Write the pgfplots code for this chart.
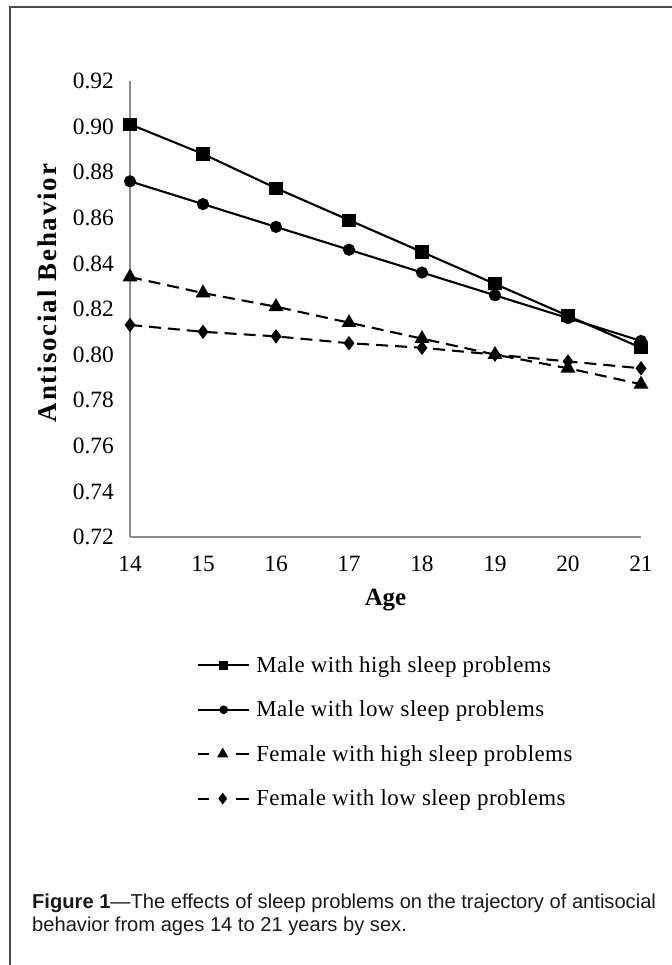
\documentclass[border=0pt]{standalone}
\usepackage{fontspec}
\setmainfont{Liberation Serif}
\newfontfamily\capfont{Liberation Sans}
\newfontfamily\ylabfont{Liberation Serif}[LetterSpace=7]
\newfontfamily\legfont{Liberation Serif}[LetterSpace=2]
\usepackage{pgfplots}
\pgfplotsset{compat=1.18}
\definecolor{axgray}{HTML}{8C8C8C}
\definecolor{framegray}{HTML}{4A4A4A}
\pgfplotsset{
  solidleg/.style={legend image code/.code={%
    \draw[##1,mark=none] (0bp,0bp)--(51bp,0bp);
    \draw[##1,mark size=#1] plot coordinates {(25.5bp,0bp)};}},
  dashleg/.style={legend image code/.code={%
    \draw[##1,mark=none,solid] (0bp,0bp)--(11bp,0bp) (38bp,0bp)--(51bp,0bp);
    \draw[##1,mark size=#1] plot coordinates {(24.5bp,0bp)};}},
}
\begin{document}
\begin{tikzpicture}
\useasboundingbox (0,0) rectangle (672bp,965bp);
\draw[framegray, line width=2bp] (10bp,0bp) -- (10bp,958bp) -- (672bp,958bp);
\begin{axis}[
  at={(130bp,428bp)}, anchor=south west,
  scale only axis, width=511bp, height=456bp,
  xmin=14, xmax=21, ymin=0.72, ymax=0.92,
  axis lines*=left,
  axis line style={axgray, line width=1.3bp},
  xtick={14,15,16,17,18,19,20,21},
  ytick={0.72,0.74,0.76,0.78,0.80,0.82,0.84,0.86,0.88,0.90,0.92},
  major tick length=0pt,
  /pgf/number format/assume math mode=true,
  tick label style={font=\fontsize{23.5}{27}\selectfont},
  yticklabel style={/pgf/number format/.cd, fixed, fixed zerofill, precision=2, /tikz/.cd, inner sep=0pt, xshift=-16bp},
  xticklabel style={inner sep=0pt, yshift=-19bp},
  xlabel={Age},
  xlabel style={at={(axis description cs:0.5,0)}, anchor=center, yshift=-63bp, font=\bfseries\fontsize{25}{29}\selectfont},
  ylabel={Antisocial Behavior},
  ylabel style={at={(axis description cs:-0.161,0.535)}, anchor=center, font=\ylabfont\bfseries\fontsize{27}{31}\selectfont},
  clip=false,
  legend style={at={(axis description cs:0.1311,-0.4276)}, anchor=west, draw=none, fill=none,
    inner sep=0pt, row sep=27bp, /tikz/column sep=6bp,
    font=\legfont\fontsize{23}{27}\selectfont, nodes={inner sep=0pt}},
  legend cell align=left,
]
\addplot[black, line width=2.1bp, mark=square*, mark size=5.5bp, mark options={solid}, solidleg=3.6bp]
  coordinates {(14,0.901)(15,0.888)(16,0.873)(17,0.859)(18,0.845)(19,0.831)(20,0.817)(21,0.803)};
\addlegendentry{Male with high sleep problems}
\addplot[black, line width=2.1bp, mark=*, mark size=5bp, mark options={solid}, solidleg=3.2bp]
  coordinates {(14,0.876)(15,0.866)(16,0.856)(17,0.846)(18,0.836)(19,0.826)(20,0.816)(21,0.806)};
\addlegendentry{Male with low sleep problems}
\addplot[black, line width=2.1bp, dash pattern=on 12bp off 7bp, mark=triangle*, mark size=6.5bp, mark options={solid}, dashleg=4.5bp]
  coordinates {(14,0.834)(15,0.827)(16,0.821)(17,0.814)(18,0.807)(19,0.800)(20,0.794)(21,0.787)};
\addlegendentry{Female with high sleep problems}
\addplot[black, line width=2.1bp, dash pattern=on 12bp off 7bp, mark=diamond*, mark size=5.5bp, mark options={solid}, dashleg=4.2bp]
  coordinates {(14,0.813)(15,0.810)(16,0.808)(17,0.805)(18,0.803)(19,0.800)(20,0.797)(21,0.794)};
\addlegendentry{Female with low sleep problems}
\end{axis}
\node[anchor=base west, inner sep=0pt, text=black!90] at (32bp,56bp) {\capfont\fontsize{20.2}{24}\selectfont\textbf{Figure 1}—The effects of sleep problems on the trajectory of antisocial};
\node[anchor=base west, inner sep=0pt, text=black!90] at (32bp,34bp) {\capfont\fontsize{20.2}{24}\selectfont behavior from ages 14 to 21 years by sex.};
\end{tikzpicture}
\end{document}
